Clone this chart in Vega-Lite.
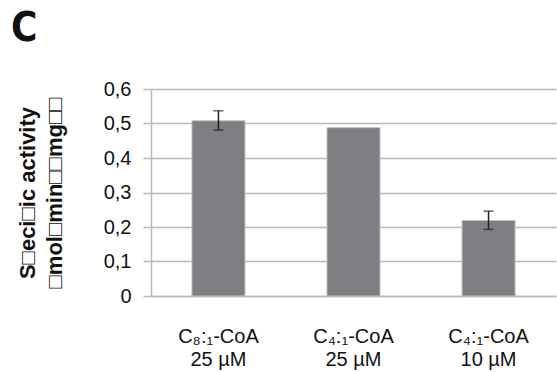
{
  "$schema": "https://vega.github.io/schema/vega-lite/v6.json",
  "width": 405,
  "height": 207,
  "autosize": {"type": "none"},
  "padding": {"left": 151, "top": 89, "right": 1, "bottom": 76},
  "background": "white",
  "title": {
    "text": "C",
    "anchor": "start",
    "frame": "group",
    "font": "'Liberation Sans Narrow', 'DejaVu Sans Condensed', sans-serif",
    "fontSize": 40,
    "fontWeight": "bold",
    "color": "#111111",
    "baseline": "bottom",
    "dx": -140,
    "offset": -10
  },
  "config": {
    "view": {"stroke": null},
    "font": "Liberation Sans",
    "axisY": {
      "tickCount": 6,
      "labelExpr": "datum.value == 0 ? '0' : replace(format(datum.value, '.1f'), '.', ',')",
      "labelFont": "Liberation Sans",
      "labelFontSize": 20,
      "labelColor": "#111111",
      "labelPadding": 12,
      "labelOverlap": false,
      "tickSize": 8,
      "tickColor": "#b9b9b9",
      "tickWidth": 1.5,
      "domainColor": "#b9b9b9",
      "domainWidth": 1.5,
      "gridColor": "#b9b9b9",
      "gridWidth": 1.5,
      "titleFont": "Liberation Sans",
      "titleFontSize": 22,
      "titleFontWeight": "bold",
      "titleColor": "#111111",
      "titleLineHeight": 27,
      "titlePadding": 37
    }
  },
  "data": {
    "values": [
      {"substrate": "C₈:₁-CoA|25 µM", "activity": 0.508, "lo": 0.481, "hi": 0.537},
      {"substrate": "C₄:₁-CoA|25 µM", "activity": 0.488, "lo": null, "hi": null},
      {"substrate": "C₄:₁-CoA|10 µM", "activity": 0.219, "lo": 0.193, "hi": 0.246}
    ]
  },
  "encoding": {
    "x": {
      "field": "substrate",
      "type": "nominal",
      "sort": null,
      "scale": {"paddingInner": 0.607, "paddingOuter": 0.303},
      "axis": {
        "title": null,
        "labelAngle": 0,
        "labelExpr": "split(datum.label, '|')",
        "labelFont": "Liberation Sans",
        "labelFontSize": 20,
        "labelLineHeight": 23,
        "labelColor": "#111111",
        "labelBaseline": "top",
        "labelPadding": 30,
        "labelOverlap": false,
        "ticks": false,
        "domainColor": "#b9b9b9",
        "domainWidth": 1.5
      }
    }
  },
  "layer": [
    {
      "mark": {"type": "bar", "color": "#7f7f83", "stroke": "#c4c4c4", "strokeWidth": 1},
      "encoding": {
        "y": {
          "field": "activity",
          "type": "quantitative",
          "scale": {"domain": [0, 0.6], "nice": false},
          "axis": {
            "title": ["S□eci□ic activity", "□mol□min□□mg□□"]
          }
        }
      }
    },
    {
      "mark": {"type": "rule", "color": "#222222", "strokeWidth": 1.5},
      "encoding": {
        "y": {"field": "lo", "type": "quantitative"},
        "y2": {"field": "hi"}
      }
    },
    {
      "mark": {"type": "tick", "color": "#222222", "thickness": 1.5, "size": 10},
      "encoding": {"y": {"field": "lo", "type": "quantitative"}}
    },
    {
      "mark": {"type": "tick", "color": "#222222", "thickness": 1.5, "size": 10},
      "encoding": {"y": {"field": "hi", "type": "quantitative"}}
    }
  ]
}
